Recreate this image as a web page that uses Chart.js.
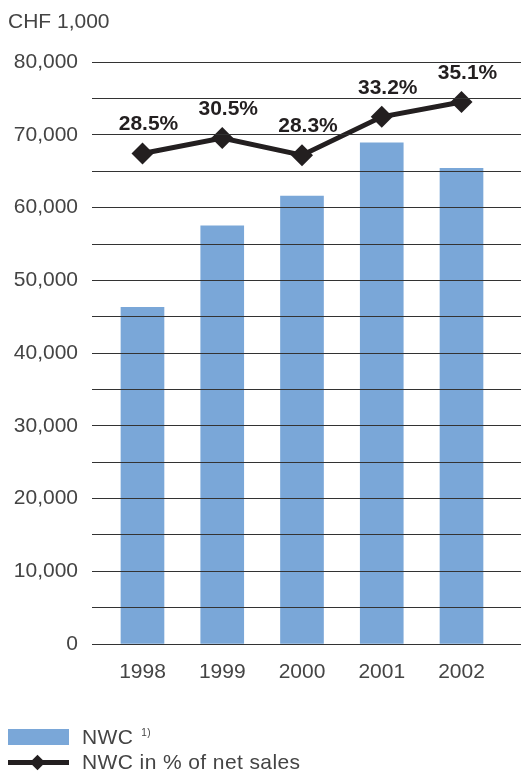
<!DOCTYPE html>
<html lang="en">
<head>
  <meta charset="UTF-8">
  <title>NWC</title>
  <style>
body {
  margin: 0;
  background: #fff;
  font-family: "Liberation Sans", Arial, sans-serif;
}

.wrap {
  position: relative;
  width: 521px;
  height: 773px;
}

/* legend below the plot */
.legend {
  position: absolute;
  left: 8px;
  top: 724px;
  color: #444;
  font-size: 21px;
  letter-spacing: 0.4px;
}

.legend .row {
  display: flex;
  align-items: center;
  height: 25px;
}

.legend .swatch {
  width: 61px;
  height: 16px;
  background: #7aa7d8;
  margin-right: 13px;
}

.legend .lineswatch {
  position: relative;
  width: 61px;
  height: 16px;
  margin-right: 13px;
}

.legend .lineswatch .bar {
  position: absolute;
  left: 0;
  top: 6px;
  width: 61px;
  height: 5px;
  background: #231f20;
}

.legend .lineswatch .dia {
  position: absolute;
  left: 24px;
  top: 1px;
  width: 11px;
  height: 11px;
  background: #231f20;
  transform: rotate(45deg);
  transform-origin: center;
  margin-top: 2px;
}

.legend sup {
  font-size: 10px;
  margin-left: 8px;
  position: relative;
  top: -4px;
}
  </style>
</head>
<body>

  <div class="wrap">
    <canvas id="nwcChart" width="521" height="773"></canvas>

    <div class="legend">
      <div class="row"><div class="swatch"></div>NWC<sup>1)</sup></div>
      <div class="row"><div class="lineswatch"><div class="bar"></div><div class="dia"></div></div>NWC in % of net sales</div>
    </div>
  </div>

  <script src="https://cdn.jsdelivr.net/npm/chart.js"></script>

  <script>
    // values
    const years = ['1998', '1999', '2000', '2001', '2002'];
    const nwc = [46300, 57500, 61600, 68900, 65400];      // CHF 1,000
    const nwcPct = [28.5, 30.5, 28.3, 33.2, 35.1];         // % of net sales

    const textColor = '#444';
    const font = "'Liberation Sans', Arial, sans-serif";

    // percent labels above the diamonds
    const pctLabels = {
      id: 'pctLabels',
      afterDatasetsDraw(chart) {
        const meta = chart.getDatasetMeta(1);
        const ctx = chart.ctx;
        ctx.save();
        ctx.font = 'bold 21px ' + font;
        ctx.fillStyle = '#231f20';
        ctx.textAlign = 'center';
        ctx.textBaseline = 'middle';
        meta.data.forEach((pt, i) => {
          ctx.fillText(nwcPct[i].toFixed(1) + '%', pt.x + 6, pt.y - 29);
        });
        ctx.restore();
      }
    };

    const ctx = document.getElementById('nwcChart').getContext('2d');

    const nwcChart = new Chart(ctx, {
      data: {
        datasets: [{
          type: 'bar',
          label: 'NWC',
          data: years.map((y, i) => ({ x: i, y: nwc[i] })),
          backgroundColor: '#7aa7d8',
          barThickness: 43,
          yAxisID: 'y',
          order: 2
        }, {
          type: 'line',
          label: 'NWC in % of net sales',
          data: years.map((y, i) => ({ x: i, y: nwcPct[i] })),
          borderColor: '#231f20',
          borderWidth: 5,
          pointStyle: 'rectRot',
          pointRadius: 11,
          pointBackgroundColor: '#231f20',
          pointBorderColor: '#231f20',
          pointBorderWidth: 0,
          tension: 0,
          yAxisID: 'y2',
          order: 1
        }]
      },
      options: {
        responsive: false,
        animation: false,
        layout: { autoPadding: false, padding: { left: 8, right: 0, top: 0, bottom: 0 } },
        plugins: {
          legend: { display: false },
          tooltip: { enabled: false },
          title: {
            display: true,
            text: 'CHF 1,000',
            align: 'start',
            color: textColor,
            font: { family: font, size: 21, weight: 'normal' },
            padding: { top: 10, bottom: 27 }
          }
        },
        scales: {
          x: {
            type: 'linear',
            offset: false,
            min: -0.633,
            max: 4.746,
            grid: { display: false },
            border: { display: false },
            afterBuildTicks: (scale) => {
              scale.ticks = years.map((y, i) => ({ value: i }));
            },
            afterFit: (scale) => { scale.height = 129; },
            ticks: {
              autoSkip: false,
              maxRotation: 0,
              padding: 8,
              color: textColor,
              font: { family: font, size: 21 },
              callback: (v) => years[v]
            }
          },
          y: {
            min: 0,
            max: 80000,
            border: { display: false },
            grid: { color: '#333', lineWidth: 1, drawTicks: false, z: 1 },
            afterFit: (scale) => { scale.width = 84; },
            ticks: {
              stepSize: 5000,
              padding: 14,
              color: textColor,
              font: { family: font, size: 21 },
              callback: (v) => v % 10000 === 0 ? v.toLocaleString('en-US') : ''
            }
          },
          y2: {
            display: false,
            min: -34.3,
            max: 40.2
          }
        }
      },
      plugins: [pctLabels]
    });
  </script>

</body>
</html>
